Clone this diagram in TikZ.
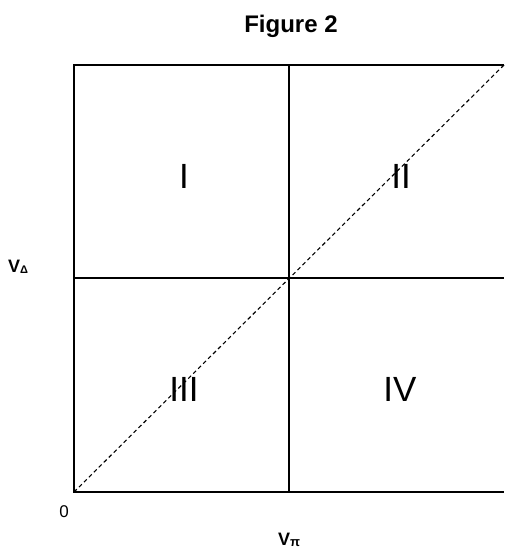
\documentclass[tikz,border=0pt]{standalone}
\usepackage{fontspec}
\setmainfont{Liberation Sans}
\begin{document}
\begin{tikzpicture}[x=1pt,y=-1pt,
  axisline/.style={line width=2pt},
  diagline/.style={line width=1.1pt,dash pattern=on 4pt off 3pt},
  region/.style={font=\fontsize{35}{35}\selectfont,inner sep=0pt,anchor=base},
  axlabel/.style={font=\bfseries\fontsize{18}{18}\selectfont,inner sep=0pt,anchor=base west}]
\useasboundingbox (0,0) rectangle (505,548);
\coordinate (O) at (74,492);
\coordinate (TL) at (74,65);
\coordinate (TR) at (504,65);
\coordinate (BR) at (504,492);
\coordinate (TM) at (289,65);
\coordinate (BM) at (289,492);
\coordinate (ML) at (74,278);
\coordinate (MR) at (504,278);
\draw[axisline] (TR) -- (TL) -- (O) -- (BR);
\draw[axisline] (TM) -- (BM);
\draw[axisline] (ML) -- (MR);
\draw[diagline] (O) -- (TR);
\node[font=\bfseries\fontsize{24}{24}\selectfont,inner sep=0pt,anchor=base] (title) at (291,33) {Figure 2};
\node[region] (r1) at (184,188) {I};
\node[region] (r2) at (401,188) {II};
\node[region] (r3) at (184,401) {III};
\node[region] (r4) at (400,401) {IV};
\node[font=\fontsize{17}{17}\selectfont,inner sep=0pt,anchor=base] (zero) at (64,517) {0};
\node[axlabel] (vd) at (8,272) {V\raisebox{-1pt}{\fontsize{11}{11}\selectfont Δ}};
\node[axlabel] (vp) at (278,545) {V\raisebox{-1pt}{\fontsize{13}{13}\selectfont π}};
\end{tikzpicture}
\end{document}
